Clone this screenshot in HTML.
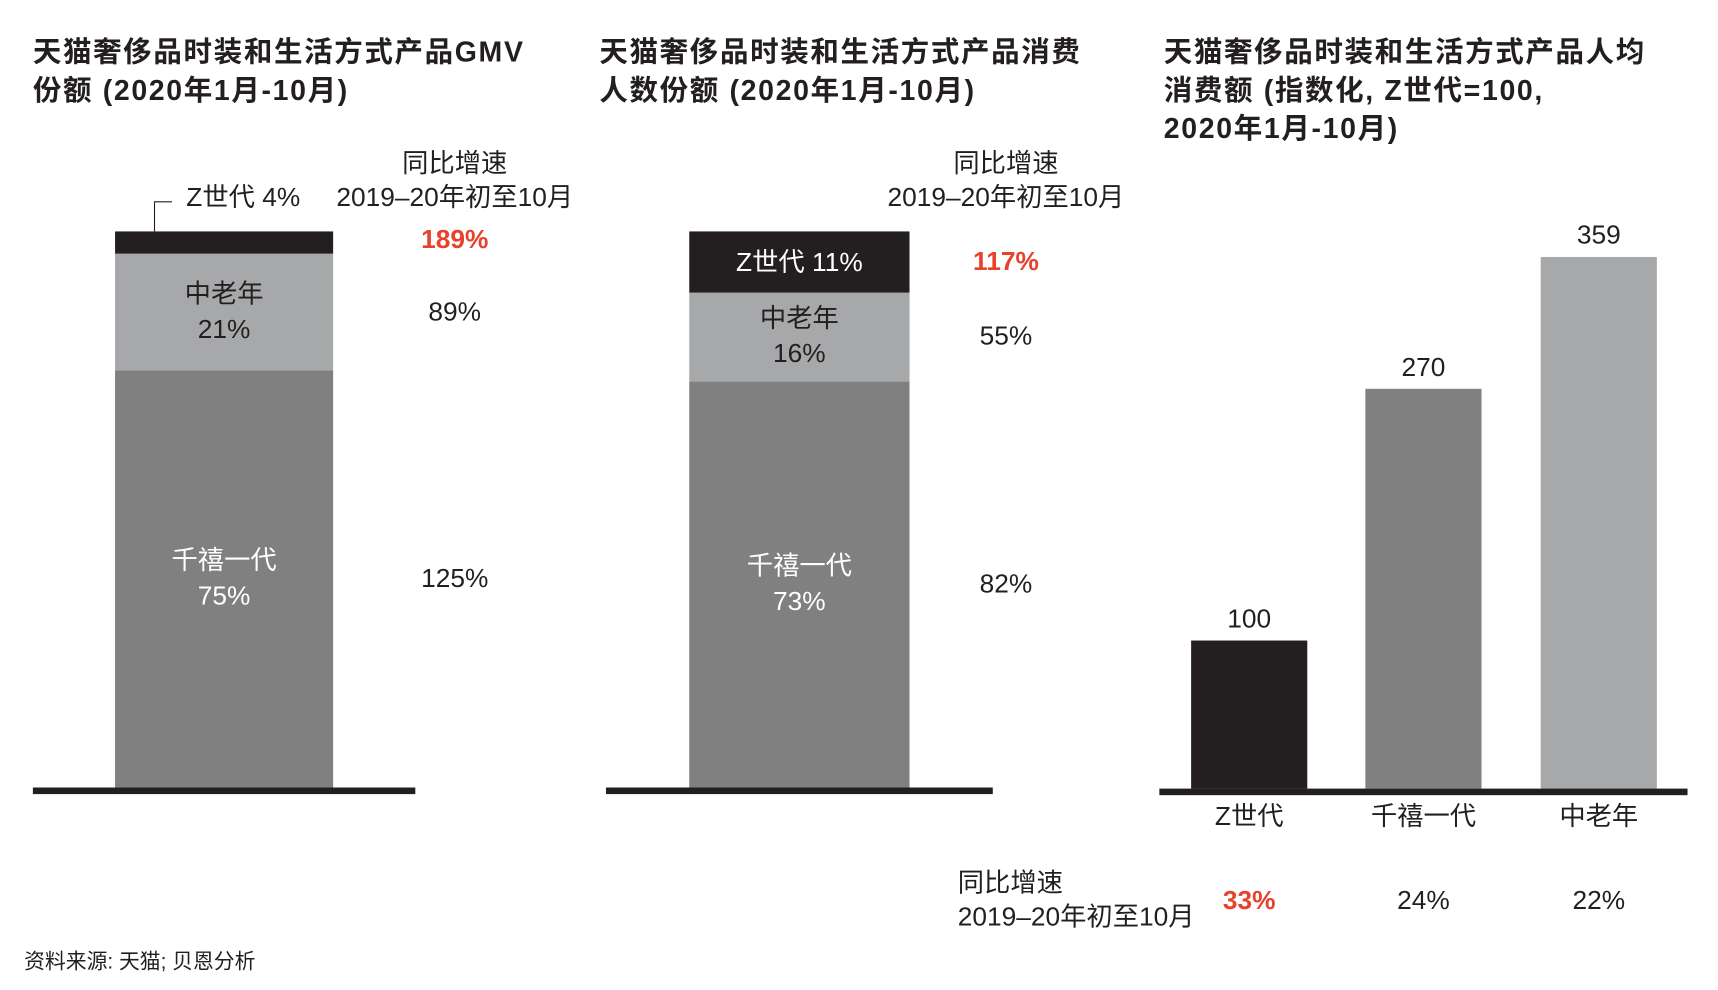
<!DOCTYPE html>
<html><head><meta charset="utf-8"><style>
html,body{margin:0;padding:0;background:#fff;width:1718px;height:990px;overflow:hidden}
#w{position:absolute;left:0;top:0;width:1560px;height:899px;transform-origin:0 0;transform:scale(1.0958,1.0968);font-family:"Liberation Sans","Noto Sans CJK SC",sans-serif;color:#231f20}
.t{position:absolute;font-size:26px;font-weight:bold;line-height:35px;white-space:nowrap;letter-spacing:1.5px}
.l{position:absolute;font-size:24px;white-space:nowrap;transform:translate(-50%,-50%);line-height:1;text-align:center}
.r{color:#e8412c;font-weight:bold}
</style></head><body>
<div id="w">
<div class="t" style="left:30px;top:30px">天猫奢侈品时装和生活方式产品GMV<br>份额 (2020年1月-10月)</div>
<div class="t" style="left:547px;top:30px">天猫奢侈品时装和生活方式产品消费<br>人数份额 (2020年1月-10月)</div>
<div class="t" style="left:1062px;top:30px">天猫奢侈品时装和生活方式产品人均<br>消费额 (指数化, Z世代=100,<br>2020年1月-10月)</div>
<svg id="svg" width="1560" height="899" style="position:absolute;left:0;top:0"></svg>
<div id="labels"></div>
<div style="position:absolute;left:22px;top:862px;font-size:19px">资料来源: 天猫; 贝恩分析</div>
</div>
<script>
const segNames=["千禧一代","中老年","Z世代"];
const gmvShare=[75,21,4];
const gmvGrowth=["125%","89%","189%"];
const userShare=[73,16,11];
const userGrowth=["82%","55%","117%"];
const idxCats=["Z世代","千禧一代","中老年"];
const idxVals=[100,270,359];
const idxGrowth=["33%","24%","22%"];

const colors={"千禧一代":"#808080","中老年":"#a7a8aa","Z世代":"#231f20"};
const svg=document.getElementById('svg');const L=document.getElementById('labels');
const NS="http://www.w3.org/2000/svg";
function rect(x,y,w,h,c,name){const r=document.createElementNS(NS,'rect');r.setAttribute('x',x);r.setAttribute('y',y);r.setAttribute('width',w);r.setAttribute('height',h);r.setAttribute('fill',c);


svg.appendChild(r);}
function lab(x,y,html,name,cls,color){const d=document.createElement('div');d.className='l'+(cls?' '+cls:'');d.style.left=x+'px';d.style.top=y+'px';if(color)d.style.color=color;d.innerHTML=html;


L.appendChild(d);}
const base=718,H=507;
function yS(p){return p/100*H;}
function stacked(x0,w,shares,growth,gx,axL,axR,prefix,zInside){
  let y=base;
  shares.forEach((s,i)=>{const h=yS(s);const n=segNames[i];rect(x0,y-h,w,h,colors[n],prefix+'-seg-'+i);
    const cy=y-h/2;
    if(n==="Z世代"){ if(zInside) lab(x0+w/2,cy+1,"Z世代 "+s+"%",prefix+'-z-label','', '#fff');
      else{ lab(222,181,"Z世代 "+s+"%",prefix+'-z-label');
        const p=document.createElementNS(NS,'path');p.setAttribute('d',`M157 184 H141 V${y-h}`);p.setAttribute('stroke','#231f20');p.setAttribute('fill','none');p.setAttribute('stroke-width','1');
        
        
        svg.appendChild(p);}
    } else lab(x0+w/2,cy,n+"<br>"+s+"%",prefix+'-label-'+i,'',n==="千禧一代"?'#fff':'#231f20');
    lab(gx,cy+(i===2&&!zInside?-2:0),growth[i],prefix+'-growth-'+i,i===2?'r':'');
    y-=h;});
  rect(axL,base,axR-axL,6,'#231f20',prefix+'-axis');
  lab(gx,150,"同比增速",prefix+'-growth-header');
  lab(gx,181,"2019–20年初至10月",prefix+'-growth-period');
}
stacked(105,199,gmvShare,gmvGrowth,415,30,379,'gmv',false);
stacked(629,201,userShare,userGrowth,918,553,906,'users',true);
const pxPer=1.35;const barX=[1087,1246,1406],bw=106;const bc=["#231f20","#808080","#a7a8aa"];
idxVals.forEach((v,i)=>{const h=v*pxPer;rect(barX[i],base+1-h,bw,h,bc[i],'index-bar-'+i);
  lab(barX[i]+bw/2,base+1-h-19,String(v),'index-value-'+i);
  lab(barX[i]+bw/2,745,idxCats[i],'index-category-'+i);
  lab(barX[i]+bw/2,822,idxGrowth[i],'index-growth-'+i,i===0?'r':'');});
rect(1058,base+1,482,6,'#231f20','index-axis');
const g1=document.createElement('div');g1.style.cssText='position:absolute;left:874px;top:790px;font-size:24px;line-height:31px;white-space:nowrap';g1.innerHTML='同比增速<br>2019–20年初至10月';


L.appendChild(g1);
document.querySelectorAll('.l').forEach(e=>{if(e.innerHTML.includes('<br>'))e.style.lineHeight='32px';});
</script>
</body></html>
